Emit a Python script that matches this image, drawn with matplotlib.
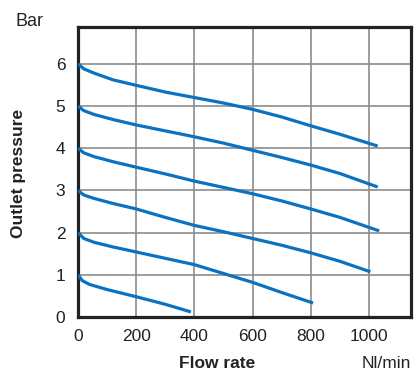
import matplotlib
matplotlib.use('Agg')
from matplotlib import pyplot as plt

plt.rcParams['font.family'] = ['Liberation Sans', 'DejaVu Sans']

# outlet pressure curves (flow Nl/min, pressure bar)
flow_6 = [0, 20, 55, 120, 200, 300, 400, 500, 600, 700, 800, 900, 1030]
pres_6 = [6.0, 5.88, 5.78, 5.62, 5.49, 5.33, 5.2, 5.07, 4.92, 4.74, 4.53, 4.33, 4.05]
flow_5 = [0, 20, 55, 120, 200, 300, 400, 500, 600, 700, 800, 900, 1030]
pres_5 = [5.0, 4.89, 4.8, 4.68, 4.55, 4.41, 4.27, 4.12, 3.95, 3.78, 3.6, 3.4, 3.08]
flow_4 = [0, 20, 55, 120, 200, 300, 400, 500, 600, 700, 800, 900, 1035]
pres_4 = [4.0, 3.89, 3.8, 3.68, 3.55, 3.39, 3.22, 3.07, 2.92, 2.75, 2.56, 2.36, 2.04]
flow_3 = [0, 20, 55, 120, 200, 300, 400, 500, 600, 700, 800, 900, 1005]
pres_3 = [3.0, 2.89, 2.81, 2.69, 2.56, 2.36, 2.17, 2.02, 1.86, 1.7, 1.52, 1.32, 1.07]
flow_2 = [0, 20, 55, 120, 200, 300, 400, 500, 600, 700, 808]
pres_2 = [2.0, 1.86, 1.77, 1.66, 1.54, 1.39, 1.24, 1.03, 0.82, 0.58, 0.33]
flow_1 = [0, 15, 40, 100, 200, 300, 388]
pres_1 = [1.0, 0.86, 0.77, 0.65, 0.48, 0.3, 0.12]

x_ticks = [0, 200, 400, 600, 800, 1000]
y_ticks = [0, 1, 2, 3, 4, 5, 6]

fig = plt.figure(figsize=(4.17, 3.76), dpi=100)
ax = fig.add_axes([0.187, 0.157, 0.799, 0.771])

for fx, py in [(flow_6, pres_6), (flow_5, pres_5), (flow_4, pres_4),
               (flow_3, pres_3), (flow_2, pres_2), (flow_1, pres_1)]:
    ax.plot(fx, py, color='#0a72c0', lw=2.3, solid_capstyle='butt',
            solid_joinstyle='round', zorder=3)

ax.set_xlim(0, 1145)
ax.set_ylim(0, 6.87)
ax.set_xticks(x_ticks)
ax.set_yticks(y_ticks)
ax.grid(True, color='#8c8c8c', lw=1.2)
ax.tick_params(length=0, labelsize=12.5, pad=9, colors='#222222')
for s in ax.spines.values():
    s.set_linewidth(2.3)
    s.set_color('#222222')

fig.text(0.036, 0.93, 'Bar', fontsize=13, color='#222222')
fig.text(0.045, 0.54, 'Outlet pressure', fontsize=12.5, fontweight='bold',
         rotation=90, ha='center', va='center', color='#222222')
fig.text(0.52, 0.02, 'Flow rate', fontsize=12.5, fontweight='bold',
         ha='center', color='#222222')
fig.text(0.985, 0.02, 'Nl/min', fontsize=12.5, ha='right', color='#222222')

fig.savefig('out.png', dpi=100)
